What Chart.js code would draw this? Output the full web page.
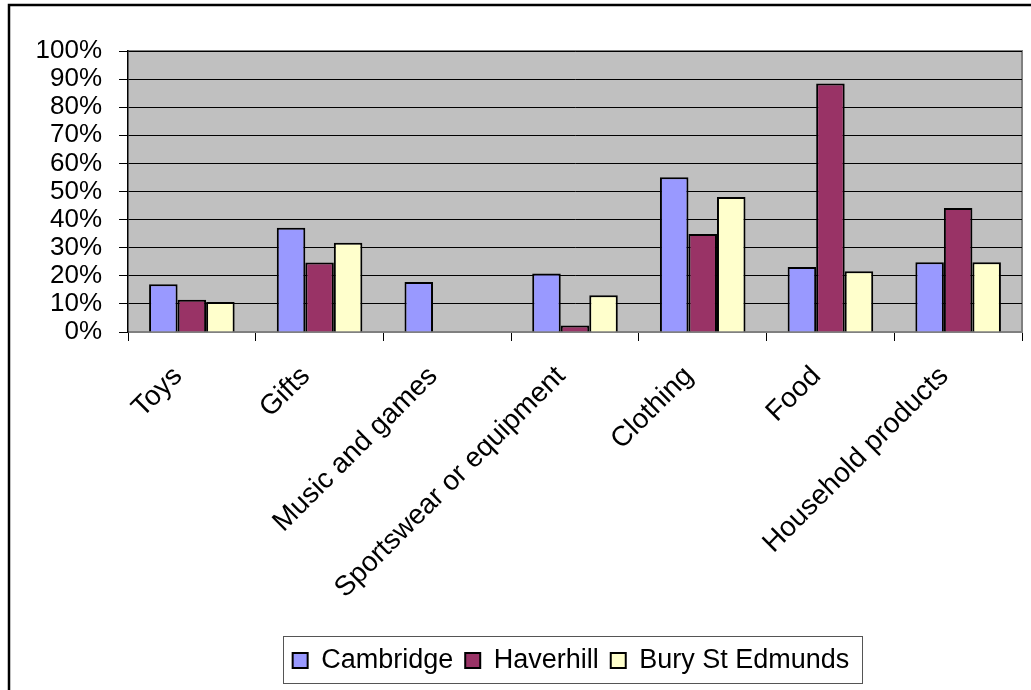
<!DOCTYPE html>
<html>
<head>
<meta charset="utf-8">
<script src="https://cdn.jsdelivr.net/npm/chart.js@4/dist/chart.umd.min.js"></script>
<style>
  html, body { margin: 0; padding: 0; background: #fff; }
  #wrap { width: 1031px; height: 690px; }
</style>
</head>
<body>
<div id="wrap"><canvas id="chart" width="1031" height="690"></canvas></div>
<script>
// categories and values (percent)
const categories = ["Toys", "Gifts", "Music and games", "Sportswear or equipment", "Clothing", "Food", "Household products"];
const cambridge = [17.0, 37.1, 17.8, 20.8, 55.1, 23.1, 24.8];
const haverhill = [11.5, 24.7, 0, 2.3, 34.9, 88.4, 44.1];
const bury = [10.7, 31.8, 0, 13.1, 48.0, 21.6, 24.8];
const yTicks = [0, 10, 20, 30, 40, 50, 60, 70, 80, 90, 100];

const FONT = "'Liberation Sans', Arial, sans-serif";
const PLOT_BOTTOM = 332;

// grey plot background, outer frame, legend frame
const frame = {
  id: "frame",
  beforeDraw(chart) {
    const { ctx, chartArea: a } = chart;
    ctx.save();
    ctx.fillStyle = "#c0c0c0";
    ctx.fillRect(a.left, a.top, a.right - a.left, a.bottom - a.top);
    ctx.strokeStyle = "#808080";
    ctx.lineWidth = 2;
    ctx.beginPath();
    ctx.moveTo(a.left, a.top);
    ctx.lineTo(a.right, a.top);
    ctx.lineTo(a.right, a.bottom);
    ctx.stroke();
    ctx.restore();
  },
  afterLayout(chart) {
    const lg = chart.legend;
    if (!lg) return;
    // legend content centred in its own framed box
    lg.left = 262;
    lg.right = 880;
    lg.width = lg.right - lg.left;
    lg.top = 635;
    lg.bottom = lg.top + lg.height;
  },
  afterDraw(chart) {
    const ctx = chart.ctx;
    ctx.save();
    ctx.strokeStyle = "#000";
    ctx.lineWidth = 2.5;
    ctx.beginPath();
    ctx.moveTo(9, 690);
    ctx.lineTo(9, 5);
    ctx.lineTo(1031, 5);
    ctx.stroke();
    ctx.strokeStyle = "#555";
    ctx.lineWidth = 1;
    ctx.strokeRect(283.5, 636.5, 579, 47);
    ctx.restore();
  }
};

new Chart(document.getElementById("chart"), {
  type: "bar",
  data: {
    labels: categories,
    datasets: [
      { label: "Cambridge", data: cambridge, backgroundColor: "#9999ff" },
      { label: "Haverhill", data: haverhill, backgroundColor: "#993366" },
      { label: "Bury St Edmunds", data: bury, backgroundColor: "#ffffcc" }
    ]
  },
  options: {
    responsive: false,
    animation: false,
    layout: { padding: { top: 51, right: 9, left: 0, bottom: 0 } },
    datasets: {
      bar: {
        borderColor: "#000",
        borderWidth: 2,
        barPercentage: 1,
        categoryPercentage: 0.67
      }
    },
    plugins: {
      tooltip: { enabled: false },
      legend: {
        position: "bottom",
        labels: {
          color: "#000",
          font: { family: FONT, size: 27 },
          boxWidth: 15,
          boxHeight: 15,
          padding: 12,
          useBorderRadius: false
        }
      }
    },
    scales: {
      x: {
        grid: {
          display: true,
          drawOnChartArea: false,
          drawTicks: true,
          tickLength: 9,
          color: "#000",
          offset: true
        },
        border: { color: "#808080", width: 2 },
        ticks: {
          color: "#000",
          font: { family: FONT, size: 28 },
          maxRotation: 45,
          minRotation: 45,
          autoSkip: false,
          padding: 19,
          labelOffset: -14
        },
        afterFit(scale) {
          const lh = scale.chart.legend ? scale.chart.legend.height : 0;
          scale.height = 690 - PLOT_BOTTOM - lh;
        }
      },
      y: {
        min: 0,
        max: 100,
        afterBuildTicks(scale) {
          scale.ticks = yTicks.map(v => ({ value: v }));
        },
        grid: {
          color: "#000",
          lineWidth: 1,
          tickLength: 9
        },
        border: { color: "#000", width: 1.5 },
        ticks: {
          color: "#000",
          font: { family: FONT, size: 26 },
          padding: 17,
          autoSkip: false,
          callback: v => v + "%"
        },
        afterFit(scale) {
          scale.width = 128;
        }
      }
    }
  },
  plugins: [frame]
});
</script>
</body>
</html>
